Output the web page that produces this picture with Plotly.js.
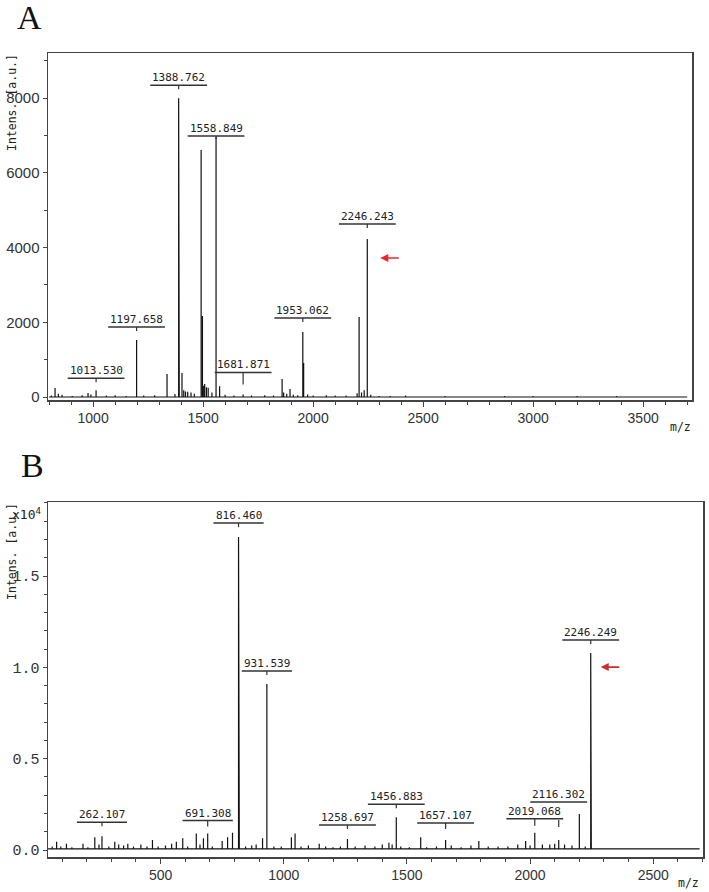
<!DOCTYPE html>
<html>
<head>
<meta charset="utf-8">
<script src="https://cdn.plot.ly/plotly-3.0.1.min.js"></script>
<style>html,body{margin:0;padding:0;background:#fff;}#chart{width:709px;height:892px;}</style>
</head>
<body>
<div id="chart"></div>
<script>
// ---------- Panel A data (m/z, intensity a.u.) ----------
const A_mz = [800, 810, 827, 842, 859, 905, 950, 977, 990, 1013.5, 1060, 1100, 1150, 1197.7, 1230, 1280, 1336, 1372,
  1388.8, 1391.5, 1404, 1412, 1420, 1430, 1445, 1460, 1491, 1497, 1501, 1507, 1515, 1523, 1540, 1558.8, 1575, 1600, 1640,
  1681.9, 1720, 1780, 1820, 1859, 1866, 1880, 1895, 1910, 1930, 1953.1, 1957, 1975, 2000, 2060, 2100, 2150, 2200, 2209,
  2220, 2232, 2246.2, 2262, 2300, 2350, 2420, 2600, 2870, 3000, 3200, 3380, 3700];
const A_int = [0, 40, 240, 90, 60, 30, 50, 110, 70, 180, 40, 50, 30, 1525, 40, 50, 615, 80,
  8000, 6350, 640, 180, 150, 140, 120, 90, 6610, 2168, 300, 350, 260, 250, 120, 6960, 290, 60, 40,
  70, 40, 50, 40, 480, 120, 90, 215, 60, 50, 1740, 910, 70, 40, 50, 40, 40, 100, 2140,
  120, 180, 4230, 60, 30, 30, 40, 30, 30, 30, 30, 30, 0];
const A_labels = ['1013.530', '1197.658', '1388.762', '1558.849', '1681.871', '1953.062', '2246.243'];
const A_arrowAt = '2246.243';

// ---------- Panel B data (m/z, intensity x10^4 a.u.) ----------
const B_mz = [45, 60, 78, 95, 118, 140, 165, 185, 205, 233, 250, 262.1, 290, 314, 330, 350, 367, 390, 420, 445, 467, 490,
  520, 545, 564, 590, 610, 645, 660, 674, 691.3, 710, 750, 772, 792, 816.5, 819.5, 845, 870, 888, 914, 931.5, 960, 990,
  1031, 1046, 1070, 1100, 1144, 1170, 1200, 1230, 1258.7, 1290, 1330, 1370, 1400, 1427, 1440, 1456.9, 1475, 1510, 1556,
  1580, 1620, 1657.1, 1680, 1720, 1760, 1792, 1830, 1870, 1910, 1950, 1982, 2000, 2019.1, 2050, 2080, 2100, 2116.3, 2140,
  2170, 2200, 2224, 2246.2, 2248.5, 2260, 2686];
const B_int = [0.005, 0.02, 0.045, 0.02, 0.035, 0.015, 0.01, 0.035, 0.015, 0.07, 0.03, 0.075, 0.02, 0.045, 0.03, 0.025,
  0.035, 0.02, 0.03, 0.02, 0.055, 0.02, 0.025, 0.035, 0.045, 0.065, 0.02, 0.09, 0.03, 0.065, 0.09, 0.02, 0.05, 0.07, 0.095,
  1.713, 0.777, 0.02, 0.025, 0.03, 0.065, 0.909, 0.02, 0.02, 0.07, 0.09, 0.02, 0.025, 0.035, 0.02, 0.015, 0.02, 0.06, 0.02,
  0.025, 0.02, 0.03, 0.04, 0.03, 0.18, 0.02, 0.015, 0.07, 0.015, 0.02, 0.055, 0.025, 0.015, 0.025, 0.05, 0.02, 0.02, 0.02,
  0.03, 0.05, 0.025, 0.095, 0.03, 0.03, 0.035, 0.055, 0.03, 0.025, 0.197, 0.02, 1.078, 0.695, 0.005, 0.005];
const B_labels = ['262.107', '691.308', '816.460', '931.539', '1258.697', '1456.883', '1657.107', '2019.068', '2116.302', '2246.249'];
const B_arrowAt = '2246.249';

// ---------- style / placement (pixels) ----------
const A_base = 0, B_base = 0.006;
// [underline lift above peak top, tick top, tick bottom]
const A_labelStyle = {
  '1013.530': [12, 12, 8], '1197.658': [13, 13, 9], '1388.762': [13, 13, 9], '1558.849': [1, 1, -2],
  '1681.871': [22, 22, 10], '1953.062': [14, 14, 10], '2246.243': [15, 15, 11]
};
const B_labelStyle = {
  '262.107': [14, 14, 10], '691.308': [13, 13, 7], '816.460': [14, 14, 10], '931.539': [13, 13, 9],
  '1258.697': [14, 14, 10], '1456.883': [13, 13, 9], '1657.107': [17, 17, 11], '2019.068': [14, 14, 7],
  '2116.302': [38, 20, 13], '2246.249': [13, 13, 9]
};

function stick(mz, ints, base) {
  const x = [], y = [];
  for (let i = 0; i < mz.length; i++) { x.push(mz[i], mz[i], mz[i]); y.push(base, ints[i], base); }
  return { x, y };
}
function nearest(mz, v) {
  let bi = 0;
  for (let i = 0; i < mz.length; i++) if (Math.abs(mz[i] - v) < Math.abs(mz[bi] - v)) bi = i;
  return bi;
}

const labelFont = { family: 'DejaVu Sans Mono, Liberation Mono, monospace', size: 11, color: '#222' };
const annotations = [], shapes = [];
function addLabels(labels, mz, ints, styles, xr, yr) {
  labels.forEach(t => {
    const v = parseFloat(t), h = ints[nearest(mz, v)], s = styles[t];
    const w = t.length * 6.6 + 4;
    annotations.push({ xref: xr, yref: yr, x: v, y: h, text: t, showarrow: false, yanchor: 'bottom',
      xanchor: 'center', yshift: s[0], borderpad: 0, font: labelFont });
    shapes.push({ type: 'line', xref: xr, yref: yr, xsizemode: 'pixel', ysizemode: 'pixel', xanchor: v, yanchor: h,
      x0: -w / 2, x1: w / 2, y0: s[0], y1: s[0], line: { color: '#333', width: 1.5 } });
    shapes.push({ type: 'line', xref: xr, yref: yr, xsizemode: 'pixel', ysizemode: 'pixel', xanchor: v, yanchor: h,
      x0: 0, x1: 0, y0: s[1], y1: s[2], line: { color: '#333', width: 1.2 } });
  });
}
addLabels(A_labels, A_mz, A_int, A_labelStyle, 'x', 'y');
addLabels(B_labels, B_mz, B_int, B_labelStyle, 'x2', 'y2');

function addArrow(t, mz, ints, xr, yr, dx, dy, col) {
  const v = parseFloat(t), h = ints[nearest(mz, v)];
  annotations.push({ xref: xr, yref: yr, x: v, y: h, text: '', showarrow: true, arrowhead: 2, arrowsize: 1,
    arrowwidth: 1.6, arrowcolor: col, ax: 20, ay: 0, xshift: dx, yshift: dy, standoff: 0 });
}
addArrow(A_arrowAt, A_mz, A_int, 'x', 'y', 13, -19, '#e8262a');
addArrow(B_arrowAt, B_mz, B_int, 'x2', 'y2', 10, -14, '#c8302c');

const titleFont = { family: 'DejaVu Sans Mono, Liberation Mono, monospace', size: 11.5, color: '#222' };
function paperText(px, py, text, font, extra) {
  annotations.push(Object.assign({ xref: 'paper', yref: 'paper', x: px / 709, y: 1 - py / 892, text: text,
    showarrow: false, xanchor: 'center', yanchor: 'middle', borderpad: 0, font: font }, extra || {}));
}
const serif = { family: 'Liberation Serif, DejaVu Serif, serif', size: 34, color: '#111' };
paperText(30, 18, 'A', serif);
paperText(32, 466, 'B', serif);
paperText(12, 103, 'Intens. [a.u.]', titleFont, { textangle: -90 });
paperText(12, 552, 'Intens. [a.u.]', titleFont, { textangle: -90 });
paperText(26, 514, 'x10<sup>4</sup>', { family: 'DejaVu Sans Mono, Liberation Mono, monospace', size: 13, color: '#222' });
paperText(680, 427, 'm/z', titleFont);
paperText(688, 883, 'm/z', titleFont);

const sA = stick(A_mz, A_int, A_base), sB = stick(B_mz, B_int, B_base);
const traces = [
  { type: 'scatter', mode: 'lines', x: sA.x, y: sA.y, xaxis: 'x', yaxis: 'y', line: { color: '#111', width: 1.2 },
    hoverinfo: 'skip', showlegend: false },
  { type: 'scatter', mode: 'lines', x: sB.x, y: sB.y, xaxis: 'x2', yaxis: 'y2', line: { color: '#111', width: 1.2 },
    hoverinfo: 'skip', showlegend: false }
];

const axBase = {
  showline: true, linecolor: '#444', linewidth: 1.5, mirror: true, showgrid: false, zeroline: false,
  ticks: 'outside', tickcolor: '#444', tickwidth: 1, ticklen: 5,
  tickfont: { family: 'Liberation Sans, Arial, sans-serif', size: 14, color: '#333' }
};
const layout = {
  width: 709, height: 892, margin: { l: 0, r: 0, t: 0, b: 0 }, paper_bgcolor: '#fff', plot_bgcolor: '#fff',
  showlegend: false,
  xaxis: Object.assign({}, axBase, { domain: [48 / 709, 692 / 709], range: [795, 3722], tick0: 0, dtick: 500,
    minor: { dtick: 100, ticks: 'outside', ticklen: 3, tickcolor: '#444' }, anchor: 'y' }),
  yaxis: Object.assign({}, axBase, { domain: [1 - 400 / 892, 1 - 53 / 892], range: [-80, 9209], tick0: 0, dtick: 2000,
    ticklen: 4, minor: { dtick: 1000, ticks: 'outside', ticklen: 3, tickcolor: '#444' }, anchor: 'x',
    tickfont: { family: 'Liberation Sans, Arial, sans-serif', size: 15, color: '#333' } }),
  xaxis2: Object.assign({}, axBase, { domain: [48 / 709, 703 / 709], range: [43, 2702], tick0: 0, dtick: 500,
    minor: { dtick: 100, ticks: 'outside', ticklen: 3, tickcolor: '#444' }, anchor: 'y2' }),
  yaxis2: Object.assign({}, axBase, { domain: [1 - 857 / 892, 1 - 502 / 892], range: [-0.038, 1.905], tick0: 0,
    dtick: 0.5, tickformat: '.1f', ticklen: 4, minor: { dtick: 0.1, ticks: 'outside', ticklen: 3, tickcolor: '#444' },
    anchor: 'x2', tickfont: { family: 'Liberation Mono, DejaVu Sans Mono, monospace', size: 15, color: '#333' } }),
  annotations: annotations,
  shapes: shapes
};
Plotly.newPlot('chart', traces, layout, { displayModeBar: false, staticPlot: true });
</script>
</body>
</html>
